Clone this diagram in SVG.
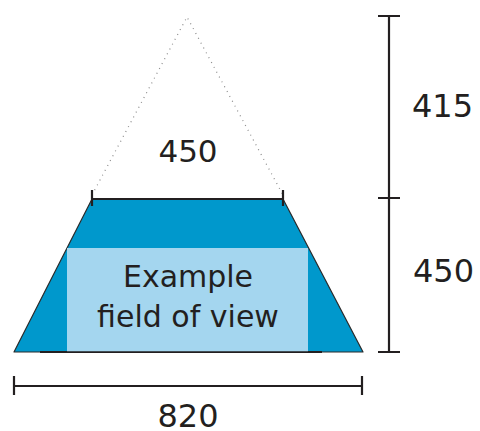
<svg xmlns="http://www.w3.org/2000/svg" width="480" height="431" viewBox="0 0 480 431">
<style>
.t{font-family:"DejaVu Sans",sans-serif;fill:#231f20}
.dim{stroke:#231f20;stroke-width:2.2;fill:none}
.dot{stroke:#8a8a8a;stroke-width:1.2;stroke-dasharray:1 4.5;fill:none}
</style>
<rect width="480" height="431" fill="#fff"/>
<g id="cone">
<polyline class="dot" points="92,195 187,17 283,195"/>
</g>
<g id="trapezoid">
<polygon points="92,199 283,199 363,352 14,352" fill="#0098cc" stroke="#2a2a2a" stroke-width="1.2" stroke-linejoin="round"/>
<line x1="40" y1="352" x2="322" y2="352" stroke="#231f20" stroke-width="2"/>
</g>
<g id="fov">
<rect x="67" y="248" width="241" height="104" fill="#a4d6ef"/>
<line x1="67" y1="352" x2="308" y2="352" stroke="#231f20" stroke-width="1.5"/>
<text class="t" x="188" y="287" font-size="30" text-anchor="middle">Example</text>
<text class="t" x="188" y="327" font-size="30" text-anchor="middle">field of view</text>
</g>
<g id="connectors">
<path class="dim" d="M92,199H283M92,190V206M283,190V206"/>
<path class="dim" d="M389,15V353M378,16H400M378,198H400M378,352H400"/>
<path class="dim" d="M14,386H362M14,376V395M362,376V395"/>
</g>
<g id="labels">
<text class="t" x="188" y="162" font-size="31" text-anchor="middle">450</text>
<text class="t" x="412" y="117" font-size="32">415</text>
<text class="t" x="413" y="282" font-size="32">450</text>
<text class="t" x="188" y="427" font-size="32" text-anchor="middle">820</text>
</g>
</svg>
